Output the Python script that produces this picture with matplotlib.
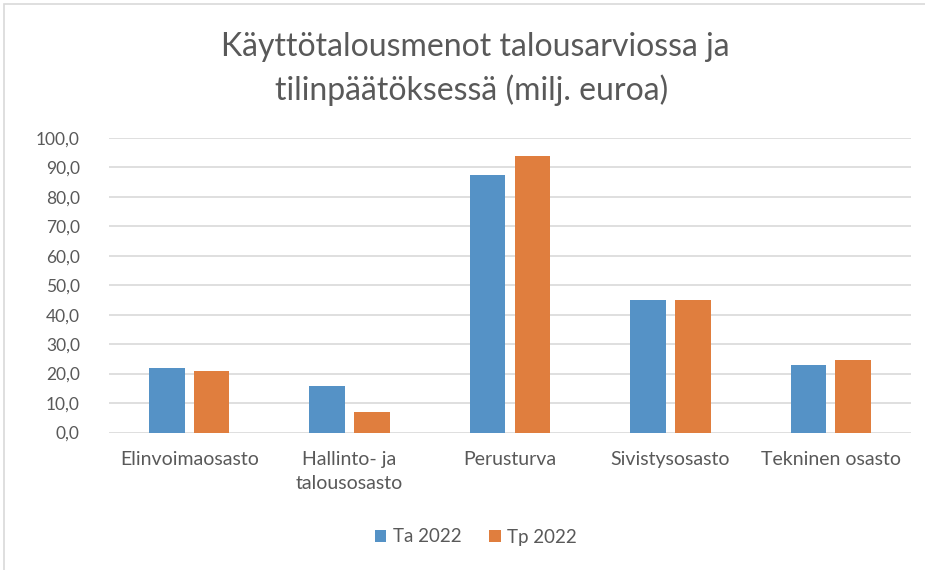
import matplotlib
matplotlib.use("Agg")
import matplotlib.pyplot as plt
import numpy as np
from matplotlib.patches import Rectangle

plt.rcParams['font.family'] = ['Lato', 'DejaVu Sans']

categories = ["Elinvoimaosasto", "Hallinto- ja\ntalousosasto", "Perusturva",
              "Sivistysosasto", "Tekninen osasto"]
ta_2022 = [21.8, 15.9, 87.5, 45.1, 23.0]
tp_2022 = [21.0, 6.9, 93.9, 44.9, 24.5]
series_names = ["Ta 2022", "Tp 2022"]
yticks = np.arange(0, 101, 10)

text_col = "#595959"
blue = "#5592C6"
orange = "#E07E3E"

fig = plt.figure(figsize=(9.25, 5.7), dpi=100)
ax = fig.add_axes([109 / 925, 1 - 432.5 / 570, 802 / 925, (432.5 - 138) / 570])

x = np.arange(len(categories))
w = 0.222
gap = 0.058
ax.bar(x - (w + gap) / 2, ta_2022, w, color=blue, label=series_names[0], zorder=3)
ax.bar(x + (w + gap) / 2, tp_2022, w, color=orange, label=series_names[1], zorder=3)

ax.set_xlim(-0.5, len(categories) - 0.5)
ax.set_ylim(0, 100)
ax.set_yticks(yticks)
ax.set_yticklabels([f"{v:.1f}".replace(".", ",") for v in yticks])
ax.set_xticks(x)
ax.set_xticklabels(categories, linespacing=1.5)
ax.tick_params(axis='both', length=0, colors=text_col)
ax.tick_params(axis='y', pad=21, labelsize=12.5)
ax.tick_params(axis='x', pad=13, labelsize=14)
ax.grid(axis='y', color="#d9d9d9", linewidth=1.2, zorder=0)
for s in ax.spines.values():
    s.set_visible(False)

fig.text(475 / 925, 1 - 47 / 570, "Käyttötalousmenot talousarviossa ja", ha='center', va='center',
         fontsize=23, color=text_col)
fig.text(472 / 925, 1 - 90 / 570, "tilinpäätöksessä (milj. euroa)", ha='center', va='center',
         fontsize=23, color=text_col)

fig.legend(loc='center', bbox_to_anchor=(476 / 925, 1 - 537 / 570), ncol=2, frameon=False,
           fontsize=13.5, labelcolor=text_col, handlelength=0.6, handleheight=0.6,
           columnspacing=1.5, handletextpad=0.35)

fig.patches.append(Rectangle((4 / 925, -0.01), 1.02, 1 - 4 / 570 + 0.01, transform=fig.transFigure,
                             fill=False, edgecolor="#d9d9d9", linewidth=1.2))

fig.savefig("out.png", dpi=100)
